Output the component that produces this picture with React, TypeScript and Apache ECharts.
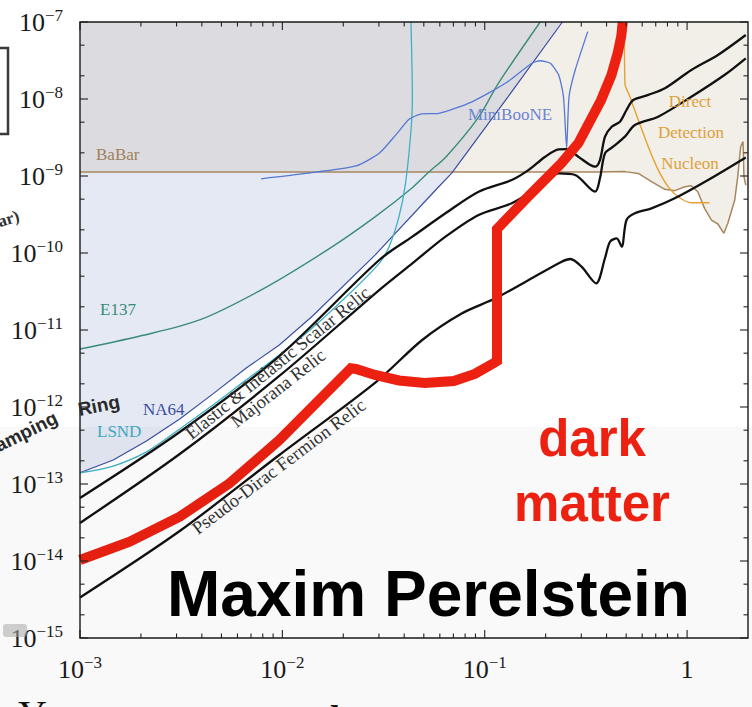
import { useEffect, useRef } from "react";
import * as echarts from "echarts";

// ---- axis extents & tick definitions ----
const X_MIN = 1e-3;
const X_MAX = 2;
const Y_MIN = 1e-15;
const Y_MAX = 1e-7;
const xDecadeExponents = [-3, -2, -1, 0];
const yDecadeExponents = [-15, -14, -13, -12, -11, -10, -9, -8, -7];
const xMinorMultipliers = [2, 3, 4, 5, 6, 7, 8, 9];
const yMinorMultipliers = [2, 5];

// ---- curves: [mass (GeV), epsilon] ----
const babar: number[][] = [
  [0.001, 1.13e-9], [0.365, 1.13e-9], [0.493, 1.14e-9], [0.574, 1.08e-9], [0.667, 8.43e-10],
  [0.776, 6.71e-10], [0.869, 6.45e-10], [0.975, 7.26e-10], [1.05, 7.48e-10], [1.13, 6.25e-10],
  [1.22, 3.8e-10], [1.32, 2.68e-10], [1.42, 2.38e-10], [1.52, 1.8e-10], [1.59, 2.43e-10],
  [1.72, 4.88e-10], [1.78, 9.8e-10], [1.84, 2.4e-9], [1.89, 2.79e-9], [1.91, 9.8e-10], [1.95, 7.6e-10],
];
const na64: number[][] = [
  [0.001, 1.4e-13], [0.00146, 2.05e-13], [0.00213, 3.61e-13], [0.00311, 6.98e-13], [0.00454, 1.48e-12],
  [0.00663, 3.21e-12], [0.00966, 6.38e-12], [0.0141, 1.52e-11], [0.0287, 9.4e-11], [0.0572, 6.58e-10],
  [0.0687, 1.09e-9], [0.13, 1.06e-8], [0.242, 1e-7],
];
const lsnd: number[][] = [
  [0.001, 1.4e-13], [0.00146, 1.71e-13], [0.00213, 2.61e-13], [0.00311, 5.18e-13], [0.00454, 1.06e-12],
  [0.00663, 2.25e-12], [0.00966, 4.73e-12], [0.01406, 1.06e-11], [0.0206, 2.68e-11], [0.0301, 7.34e-11],
  [0.0337, 1.21e-10], [0.0377, 2.96e-10], [0.0406, 8.03e-10], [0.0431, 3.59e-9], [0.0439, 9.7e-9], [0.0432, 1e-7],
];
const e137: number[][] = [
  [0.001, 5.66e-12], [0.00198, 8.36e-12], [0.0039, 1.35e-11], [0.00833, 3.61e-11], [0.0176, 1.2e-10],
  [0.0287, 2.94e-10], [0.0437, 6.98e-10], [0.053, 1.13e-9], [0.0643, 1.77e-9], [0.0933, 5.83e-9],
  [0.117, 1.61e-8], [0.188, 1e-7],
];
const miniBooNE: number[][] = [
  [0.00785, 9.2e-10], [0.0131, 1.08e-9], [0.0231, 1.35e-9], [0.0301, 1.97e-9], [0.0363, 3.4e-9],
  [0.0423, 5.45e-9], [0.0482, 6.38e-9], [0.0593, 6.5e-9], [0.0865, 9.2e-9], [0.1265, 1.6e-8],
  [0.171, 2.91e-8], [0.188, 3.14e-8], [0.211, 2.91e-8], [0.232, 2.05e-8], [0.245, 1.07e-8],
  [0.254, 2.29e-9], [0.261, 1.07e-8], [0.28, 2.38e-8], [0.323, 7.5e-8],
];
const directDetection: number[][] = [
  [0.49, 1e-7], [0.493, 1.6e-8], [0.522, 1.07e-8], [0.574, 5.33e-9], [0.643, 2.4e-9], [0.72, 1.2e-9],
  [0.806, 7.26e-10], [0.903, 5.38e-10], [1.05, 4.5e-10], [1.29, 4.5e-10],
];
const scalarRelic: number[][] = [
  [0.001, 6.58e-14], [0.00311, 4.73e-13], [0.00966, 4.59e-12], [0.0301, 8.11e-11], [0.0439, 1.63e-10],
  [0.064, 3.28e-10], [0.0933, 6.25e-10], [0.136, 8.87e-10], [0.165, 1.2e-9], [0.199, 1.78e-9],
  [0.232, 2.22e-9], [0.254, 2.24e-9], [0.29, 1.78e-9], [0.351, 1.32e-9], [0.371, 1.61e-9],
  [0.393, 3.24e-9], [0.424, 4.36e-9], [0.466, 5.07e-9], [0.502, 7.2e-9], [0.542, 9.7e-9],
  [0.643, 1.13e-8], [0.777, 1.38e-8], [1.05, 2.38e-8], [1.42, 3.73e-8], [1.95, 6.78e-8],
];
const majoranaRelic: number[][] = [
  [0.001, 3.12e-14], [0.00311, 2.45e-13], [0.00966, 2.53e-12], [0.0301, 3.3e-11], [0.0439, 7.34e-11],
  [0.064, 1.63e-10], [0.0933, 3.12e-10], [0.136, 4.42e-10], [0.185, 7.26e-10], [0.232, 1.08e-9],
  [0.28, 1.03e-9], [0.351, 6.25e-10], [0.371, 9.33e-10], [0.393, 1.97e-9], [0.431, 2.4e-9],
  [0.493, 3.24e-9], [0.552, 4.59e-9], [0.72, 5.89e-9], [1.05, 1.07e-8], [1.53, 2.05e-8], [1.95, 3.38e-8],
];
const pseudoDiracRelic: number[][] = [
  [0.001, 3.36e-15], [0.00311, 2.45e-14], [0.00966, 2.38e-13], [0.029, 2.11e-12], [0.0491, 7.42e-12],
  [0.0773, 1.65e-11], [0.113, 2.58e-11], [0.165, 4.46e-11], [0.24, 7.71e-11], [0.265, 8.36e-11],
  [0.301, 6.64e-11], [0.355, 4.04e-11], [0.393, 8.61e-11], [0.416, 1.4e-10], [0.449, 1.55e-10],
  [0.475, 1.21e-10], [0.502, 2.68e-10], [0.552, 3.28e-10], [0.667, 3.8e-10], [0.869, 5.13e-10],
  [1.27, 8.87e-10], [1.95, 1.74e-9],
];
const darkMatterBand: number[][] = [
  [0.001, 1.03e-14], [0.00176, 1.78e-14], [0.00311, 3.76e-14], [0.00548, 1.02e-13], [0.00966, 3.72e-13],
  [0.0152, 1.23e-12], [0.0218, 3.18e-12], [0.0231, 3.12e-12], [0.0287, 2.61e-12], [0.0377, 2.21e-12],
  [0.0506, 2.05e-12], [0.0703, 2.18e-12], [0.0893, 2.69e-12], [0.111, 3.72e-12], [0.115, 3.95e-12],
  [0.115, 2.05e-10], [0.165, 5.5e-10], [0.239, 1.46e-9], [0.29, 2.66e-9], [0.376, 9.7e-9],
  [0.423, 2.05e-8], [0.454, 3.93e-8], [0.473, 6.58e-8], [0.481, 1e-7],
];

const SERIF = "'Liberation Serif', 'DejaVu Serif', serif";
const SANS = "'Liberation Sans', Arial, sans-serif";

function buildGray(): number[][] {
  const level = babar[0][1];
  const pts: number[][] = [[X_MIN, level]];
  for (let i = 0; i < na64.length; i++) {
    const [x, y] = na64[i];
    if (y >= level) {
      if (pts.length === 1 && i > 0) {
        const [x0, y0] = na64[i - 1];
        const t = (Math.log10(level) - Math.log10(y0)) / (Math.log10(y) - Math.log10(y0));
        const xi = Math.pow(10, Math.log10(x0) + t * (Math.log10(x) - Math.log10(x0)));
        pts.push([xi, level]);
      }
      pts.push([x, y]);
    }
  }
  pts.push([X_MIN, Y_MAX]);
  return pts;
}

function polygonSeries(pts: number[][], color: string, z: number) {
  return {
    type: "custom",
    coordinateSystem: "cartesian2d",
    silent: true,
    z,
    data: [pts[0]],
    renderItem: (_p: any, api: any) => ({
      type: "polygon",
      shape: { points: pts.map((p) => api.coord(p)) },
      style: { fill: color },
    }),
  };
}

function lineSeries(data: number[][], color: string, width: number, z: number, smooth: number | boolean = false) {
  return {
    type: "line",
    data,
    showSymbol: false,
    symbol: "none",
    smooth,
    silent: true,
    z,
    lineStyle: { color, width },
  };
}

function labelFormatter(v: number) {
  const l = Math.log10(v);
  const e = Math.round(l);
  if (Math.abs(l - e) > 1e-6) return "";
  if (e === 0) return "{b|1}";
  return `{b|10}{s|\u2212${-e}}`;
}

const richLabels = {
  b: { fontFamily: SERIF, fontSize: 26, color: "#1a1a1a", lineHeight: 30 },
  s: { fontFamily: SERIF, fontSize: 17, color: "#1a1a1a", lineHeight: 14, verticalAlign: "top" },
};

export default function App() {
  const ref = useRef<HTMLDivElement>(null);

  useEffect(() => {
    document.body.style.margin = "0";
    const chart = echarts.init(ref.current!, null, { renderer: "svg" });

    const beige = [...babar, [X_MAX, babar[babar.length - 1][1]], [X_MAX, Y_MAX], [X_MIN, Y_MAX]];
    const blue = [...na64, [X_MIN, Y_MAX]];
    const gray = buildGray();

    // tick items: [x, y, axis(0=x,1=y), major]
    const tickItems: number[][] = [];
    xDecadeExponents.forEach((e) => {
      tickItems.push([Math.pow(10, e), Y_MIN, 0, 1]);
      xMinorMultipliers.forEach((k) => {
        const v = k * Math.pow(10, e);
        if (v < X_MAX) tickItems.push([v, Y_MIN, 0, 0]);
      });
    });
    yDecadeExponents.forEach((e) => {
      tickItems.push([X_MIN, Math.pow(10, e), 1, 1]);
      if (e < -7) yMinorMultipliers.forEach((k) => tickItems.push([X_MIN, k * Math.pow(10, e), 1, 0]));
    });

    const relicFont = `18.5px ${SERIF}`;

    const option: any = {
      animation: false,
      backgroundColor: "#ffffff",
      grid: { left: 80, right: 4, top: 22, bottom: 69, show: false },
      xAxis: {
        type: "log",
        logBase: 10,
        min: X_MIN,
        max: X_MAX,
        splitNumber: 4,
        axisLine: { show: false },
        axisTick: { show: false },
        splitLine: { show: false },
        axisLabel: {
          margin: 16,
          formatter: labelFormatter,
          rich: richLabels,
          showMinLabel: true,
          showMaxLabel: true,
          hideOverlap: false,
        },
      },
      yAxis: {
        type: "log",
        logBase: 10,
        min: Y_MIN,
        max: Y_MAX,
        splitNumber: 8,
        axisLine: { show: false },
        axisTick: { show: false },
        splitLine: { show: false },
        axisLabel: {
          margin: 17,
          formatter: labelFormatter,
          rich: richLabels,
          showMinLabel: true,
          showMaxLabel: true,
          hideOverlap: false,
        },
      },
      series: [
        polygonSeries(beige, "#f2eee8", 1),
        polygonSeries(blue, "#e5e9f3", 1.1),
        polygonSeries(gray, "#dcdce0", 1.2),
        lineSeries(babar, "#a8875f", 1.5, 3),
        lineSeries(directDetection, "#e6a132", 1.4, 3, 0.3),
        lineSeries(e137, "#3a8c78", 1.4, 3, 0.3),
        lineSeries(na64, "#3a4fa0", 1.2, 3),
        lineSeries(lsnd, "#3fb0c4", 1.3, 3, 0.3),
        lineSeries(miniBooNE, "#5578d6", 1.3, 3, 0.2),
        lineSeries(scalarRelic, "#111111", 2.3, 4, 0.3),
        lineSeries(majoranaRelic, "#111111", 2.3, 4, 0.3),
        lineSeries(pseudoDiracRelic, "#111111", 2.3, 4, 0.3),
        {
          ...lineSeries(darkMatterBand, "#ec2111", 10, 6),
          clip: false,
          lineStyle: { color: "#ec2111", width: 10, cap: "butt", join: "miter" },
        },
        {
          type: "custom",
          coordinateSystem: "cartesian2d",
          silent: true,
          z: 8,
          data: tickItems,
          renderItem: (params: any, api: any) => {
            const cs = params.coordSys;
            const len = api.value(3) ? 8 : 4.5;
            const st = { stroke: "#222", lineWidth: 1.1 };
            const children: any[] = [];
            if (api.value(2) === 0) {
              const px = api.coord([api.value(0), Y_MIN])[0];
              const b = cs.y + cs.height;
              children.push({ type: "line", shape: { x1: px, y1: b, x2: px, y2: b - len }, style: st });
              children.push({ type: "line", shape: { x1: px, y1: cs.y, x2: px, y2: cs.y + len }, style: st });
            } else {
              const py = api.coord([X_MIN, api.value(1)])[1];
              const r = cs.x + cs.width;
              children.push({ type: "line", shape: { x1: cs.x, y1: py, x2: cs.x + len, y2: py }, style: st });
              children.push({ type: "line", shape: { x1: r, y1: py, x2: r - len, y2: py }, style: st });
            }
            if (params.dataIndex === 0) {
              children.push({
                type: "rect",
                shape: { x: cs.x, y: cs.y, width: cs.width, height: cs.height },
                style: { fill: "none", stroke: "#1a1a1a", lineWidth: 1.4 },
              });
            }
            return { type: "group", children };
          },
        },
      ],
      graphic: [
        // slide overlay band
        { type: "rect", z: 50, silent: true, shape: { x: 0, y: 427, width: 752, height: 280 }, style: { fill: "rgba(0,0,0,0.024)" } },
        // cropped slide fragments on the left
        { type: "polyline", z: 60, silent: true, shape: { points: [[0, 48], [8, 48], [8, 134], [0, 134]] }, style: { stroke: "#3a3a3a", lineWidth: 2.5, fill: "none" } },
        { type: "text", z: 60, silent: true, x: -2, y: 222, rotation: 0.3, style: { text: "ar)", fill: "#333", font: `bold 17px ${SERIF}`, align: "left", verticalAlign: "middle" } },
        { type: "text", z: 60, silent: true, x: 0, y: 455, rotation: 0.46, style: { text: "amping", fill: "#2a2a2a", font: `bold 19px ${SANS}`, align: "left", verticalAlign: "bottom" } },
        { type: "text", z: 60, silent: true, x: 80, y: 419, rotation: 0.2, style: { text: "Ring", fill: "#2a2a2a", font: `bold 19px ${SANS}`, align: "left", verticalAlign: "bottom" } },
        { type: "rect", z: 60, silent: true, shape: { x: 3, y: 624, width: 24, height: 13, r: 3 }, style: { fill: "rgba(170,170,170,0.55)" } },
        // cropped bottom line of text
        { type: "text", z: 60, silent: true, x: 18, y: 734, style: { text: "Y", fill: "#111", font: `40px ${SERIF}`, align: "left", verticalAlign: "bottom" } },
        { type: "text", z: 60, silent: true, x: 143, y: 738, style: { text: "10", fill: "#111", font: `36px ${SERIF}`, align: "left", verticalAlign: "bottom" } },
        { type: "text", z: 60, silent: true, x: 186, y: 739, style: { text: "m", fill: "#111", font: `italic 36px ${SERIF}`, align: "left", verticalAlign: "bottom" } },
        { type: "text", z: 60, silent: true, x: 330, y: 736, style: { text: "l", fill: "#111", font: `bold 36px ${SERIF}`, align: "left", verticalAlign: "bottom" } },
        { type: "text", z: 60, silent: true, x: 417, y: 739, style: { text: "GeV", fill: "#111", font: `italic 36px ${SERIF}`, align: "left", verticalAlign: "bottom" } },
        // curve labels
        { type: "text", z: 60, silent: true, x: 96, y: 154, style: { text: "BaBar", fill: "#a0805c", font: `17px ${SERIF}`, align: "left", verticalAlign: "middle" } },
        { type: "text", z: 60, silent: true, x: 468, y: 114, style: { text: "MiniBooNE", fill: "#6a84d0", font: `17px ${SERIF}`, align: "left", verticalAlign: "middle" } },
        { type: "text", z: 60, silent: true, x: 100, y: 309, style: { text: "E137", fill: "#3a8c78", font: `17px ${SERIF}`, align: "left", verticalAlign: "middle" } },
        { type: "text", z: 60, silent: true, x: 143, y: 409, style: { text: "NA64", fill: "#3a4fa0", font: `17px ${SERIF}`, align: "left", verticalAlign: "middle" } },
        { type: "text", z: 60, silent: true, x: 97, y: 431, style: { text: "LSND", fill: "#3fa8c0", font: `17px ${SERIF}`, align: "left", verticalAlign: "middle" } },
        { type: "text", z: 60, silent: true, x: 690, y: 101, style: { text: "Direct", fill: "#dfa03a", font: `17px ${SERIF}`, align: "center", verticalAlign: "middle" } },
        { type: "text", z: 60, silent: true, x: 691, y: 132, style: { text: "Detection", fill: "#dfa03a", font: `17px ${SERIF}`, align: "center", verticalAlign: "middle" } },
        { type: "text", z: 60, silent: true, x: 690, y: 163, style: { text: "Nucleon", fill: "#dfa03a", font: `17px ${SERIF}`, align: "center", verticalAlign: "middle" } },
        { type: "text", z: 60, silent: true, x: 194, y: 443, rotation: (39 * Math.PI) / 180, style: { text: "Elastic & Inelastic Scalar Relic", fill: "#333", font: relicFont, align: "left", verticalAlign: "bottom" } },
        { type: "text", z: 60, silent: true, x: 239, y: 431, rotation: (38 * Math.PI) / 180, style: { text: "Majorana Relic", fill: "#333", font: relicFont, align: "left", verticalAlign: "bottom" } },
        { type: "text", z: 60, silent: true, x: 200, y: 538, rotation: (37 * Math.PI) / 180, style: { text: "Pseudo-Dirac Fermion Relic", fill: "#333", font: relicFont, align: "left", verticalAlign: "bottom" } },
        // slide annotations
        { type: "text", z: 70, silent: true, x: 592, y: 438, style: { text: "dark", fill: "#ec2111", font: `bold 51px ${SANS}`, align: "center", verticalAlign: "middle" } },
        { type: "text", z: 70, silent: true, x: 592, y: 503, style: { text: "matter", fill: "#ec2111", font: `bold 51px ${SANS}`, align: "center", verticalAlign: "middle" } },
        { type: "text", z: 70, silent: true, x: 167, y: 594, style: { text: "Maxim Perelstein", fill: "#000", font: `bold 64px ${SANS}`, align: "left", verticalAlign: "middle" } },
      ],
    };

    chart.setOption(option);
    return () => chart.dispose();
  }, []);

  return <div ref={ref} style={{ width: 752, height: 707 }} />;
}
